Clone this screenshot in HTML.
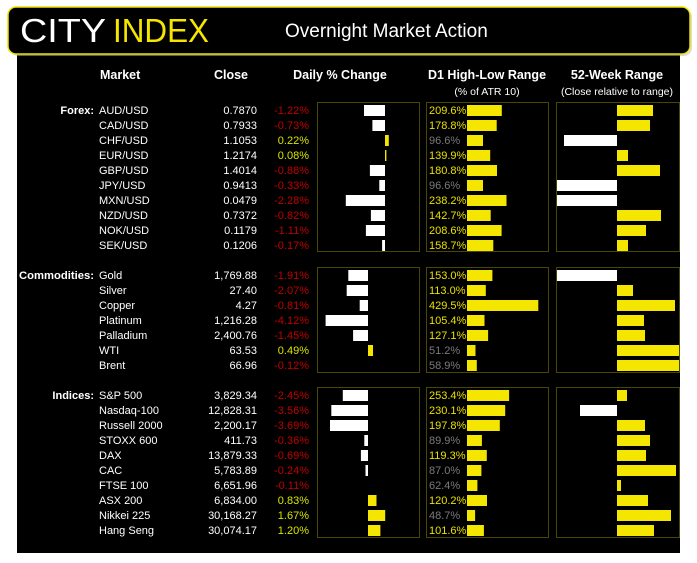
<!DOCTYPE html>
<html><head><meta charset="utf-8"><style>
html,body{margin:0;padding:0;background:#fff;}
svg{display:block;font-family:"Liberation Sans",sans-serif;}
.t{font-size:11px;fill:#fff;}
.h{font-size:12.5px;font-weight:bold;fill:#fff;}
.s{font-size:10.5px;fill:#fff;}
.r{fill:#c00000;font-size:11px;}
.g{fill:#d8e600;font-size:11px;}
.y{fill:#e8e000;font-size:11px;}
.gr{fill:#7a7a7a;font-size:11px;}
.b{font-weight:bold;}
</style></head><body>
<svg width="697" height="563" viewBox="0 0 697 563" xmlns="http://www.w3.org/2000/svg">
<rect x="17" y="50" width="663" height="503" fill="#000"/>
<rect x="10" y="9" width="682" height="47" rx="8" fill="#bbb" opacity="0.5"/>
<rect x="8" y="7" width="682" height="47" rx="8" fill="#000" stroke="#f0e000" stroke-width="1.5"/>
<text x="20" y="42" style="font-size:33px;fill:#fff;font-weight:300" textLength="86" lengthAdjust="spacingAndGlyphs">CITY</text>
<text x="113" y="42" style="font-size:33px;fill:#f5e600" textLength="96" lengthAdjust="spacingAndGlyphs">INDEX</text>
<text x="285" y="37" style="font-size:19px;fill:#fff">Overnight Market Action</text>

<text class="h" x="100" y="79">Market</text>
<text class="h" x="231" y="79" text-anchor="middle">Close</text>
<text class="h" x="340" y="79" text-anchor="middle">Daily % Change</text>
<text class="h" x="487" y="79" text-anchor="middle">D1 High-Low Range</text>
<text class="s" x="487" y="95" text-anchor="middle">(% of ATR 10)</text>
<text class="h" x="617" y="79" text-anchor="middle">52-Week Range</text>
<text class="s" x="617" y="95" text-anchor="middle">(Close relative to range)</text>

<g fill="none" stroke="#4a4800" stroke-width="1">
<rect x="317.5" y="102.5" width="102" height="149"/><rect x="426.5" y="102.5" width="122" height="149"/><rect x="556.5" y="102.5" width="123" height="149"/>
<rect x="317.5" y="267.5" width="102" height="105"/><rect x="426.5" y="267.5" width="122" height="105"/><rect x="556.5" y="267.5" width="123" height="105"/>
<rect x="317.5" y="387.5" width="102" height="150"/><rect x="426.5" y="387.5" width="122" height="150"/><rect x="556.5" y="387.5" width="123" height="150"/>
</g>

<text class="t b" x="94" y="114" text-anchor="end">Forex:</text>
<text class="t b" x="94" y="279" text-anchor="end" textLength="75" lengthAdjust="spacingAndGlyphs">Commodities:</text>
<text class="t b" x="94" y="399" text-anchor="end">Indices:</text>

<g class="t">
<text x="99" y="114">AUD/USD</text><text x="99" y="129">CAD/USD</text><text x="99" y="144">CHF/USD</text><text x="99" y="159">EUR/USD</text><text x="99" y="174">GBP/USD</text><text x="99" y="189">JPY/USD</text><text x="99" y="204">MXN/USD</text><text x="99" y="219">NZD/USD</text><text x="99" y="234">NOK/USD</text><text x="99" y="249">SEK/USD</text>
<text x="99" y="279">Gold</text><text x="99" y="294">Silver</text><text x="99" y="309">Copper</text><text x="99" y="324">Platinum</text><text x="99" y="339">Palladium</text><text x="99" y="354">WTI</text><text x="99" y="369">Brent</text>
<text x="99" y="399">S&amp;P 500</text><text x="99" y="414">Nasdaq-100</text><text x="99" y="429">Russell 2000</text><text x="99" y="444">STOXX 600</text><text x="99" y="459">DAX</text><text x="99" y="474">CAC</text><text x="99" y="489">FTSE 100</text><text x="99" y="504">ASX 200</text><text x="99" y="519">Nikkei 225</text><text x="99" y="534">Hang Seng</text>
</g>
<g class="t" text-anchor="end">
<text x="257" y="114">0.7870</text><text x="257" y="129">0.7933</text><text x="257" y="144">1.1053</text><text x="257" y="159">1.2174</text><text x="257" y="174">1.4014</text><text x="257" y="189">0.9413</text><text x="257" y="204">0.0479</text><text x="257" y="219">0.7372</text><text x="257" y="234">0.1179</text><text x="257" y="249">0.1206</text>
<text x="257" y="279">1,769.88</text><text x="257" y="294">27.40</text><text x="257" y="309">4.27</text><text x="257" y="324">1,216.28</text><text x="257" y="339">2,400.76</text><text x="257" y="354">63.53</text><text x="257" y="369">66.96</text>
<text x="257" y="399">3,829.34</text><text x="257" y="414">12,828.31</text><text x="257" y="429">2,200.17</text><text x="257" y="444">411.73</text><text x="257" y="459">13,879.33</text><text x="257" y="474">5,783.89</text><text x="257" y="489">6,651.96</text><text x="257" y="504">6,834.00</text><text x="257" y="519">30,168.27</text><text x="257" y="534">30,074.17</text>
</g>
<g text-anchor="end">
<text class="r" x="309" y="114">-1.22%</text><text class="r" x="309" y="129">-0.73%</text><text class="g" x="309" y="144">0.22%</text><text class="g" x="309" y="159">0.08%</text><text class="r" x="309" y="174">-0.88%</text><text class="r" x="309" y="189">-0.33%</text><text class="r" x="309" y="204">-2.28%</text><text class="r" x="309" y="219">-0.82%</text><text class="r" x="309" y="234">-1.11%</text><text class="r" x="309" y="249">-0.17%</text>
<text class="r" x="309" y="279">-1.91%</text><text class="r" x="309" y="294">-2.07%</text><text class="r" x="309" y="309">-0.81%</text><text class="r" x="309" y="324">-4.12%</text><text class="r" x="309" y="339">-1.45%</text><text class="g" x="309" y="354">0.49%</text><text class="r" x="309" y="369">-0.12%</text>
<text class="r" x="309" y="399">-2.45%</text><text class="r" x="309" y="414">-3.56%</text><text class="r" x="309" y="429">-3.69%</text><text class="r" x="309" y="444">-0.36%</text><text class="r" x="309" y="459">-0.69%</text><text class="r" x="309" y="474">-0.24%</text><text class="r" x="309" y="489">-0.11%</text><text class="g" x="309" y="504">0.83%</text><text class="g" x="309" y="519">1.67%</text><text class="g" x="309" y="534">1.20%</text>
</g>
<g fill="#fff">
<rect x="364" y="105" width="21" height="11"/><rect x="372.4" y="120" width="12.6" height="11"/><rect x="369.9" y="165" width="15.1" height="11"/><rect x="379.3" y="180" width="5.7" height="11"/><rect x="345.8" y="195" width="39.2" height="11"/><rect x="370.9" y="210" width="14.1" height="11"/><rect x="365.9" y="225" width="19.1" height="11"/><rect x="382.1" y="240" width="2.9" height="11"/>
<rect x="348.3" y="270" width="19.7" height="11"/><rect x="346.7" y="285" width="21.3" height="11"/><rect x="359.7" y="300" width="8.3" height="11"/><rect x="325.6" y="315" width="42.4" height="11"/><rect x="353.1" y="330" width="14.9" height="11"/>
<rect x="342.8" y="390" width="25.2" height="11"/><rect x="331.3" y="405" width="36.7" height="11"/><rect x="330" y="420" width="38" height="11"/><rect x="364.3" y="435" width="3.7" height="11"/><rect x="360.9" y="450" width="7.1" height="11"/><rect x="365.5" y="465" width="2.5" height="11"/>
</g>
<g fill="#f5e600">
<rect x="385" y="135" width="3.8" height="11"/><rect x="385" y="150" width="1.4" height="11"/>
<rect x="368" y="345" width="5" height="11"/>
<rect x="368" y="495" width="8.5" height="11"/><rect x="368" y="510" width="17.2" height="11"/><rect x="368" y="525" width="12.4" height="11"/>
</g>
<g>
<text class="y" x="429" y="114">209.6%</text><text class="y" x="429" y="129">178.8%</text><text class="gr" x="429" y="144">96.6%</text><text class="y" x="429" y="159">139.9%</text><text class="y" x="429" y="174">180.8%</text><text class="gr" x="429" y="189">96.6%</text><text class="y" x="429" y="204">238.2%</text><text class="y" x="429" y="219">142.7%</text><text class="y" x="429" y="234">208.6%</text><text class="y" x="429" y="249">158.7%</text>
<text class="y" x="429" y="279">153.0%</text><text class="y" x="429" y="294">113.0%</text><text class="y" x="429" y="309">429.5%</text><text class="y" x="429" y="324">105.4%</text><text class="y" x="429" y="339">127.1%</text><text class="gr" x="429" y="354">51.2%</text><text class="gr" x="429" y="369">58.9%</text>
<text class="y" x="429" y="399">253.4%</text><text class="y" x="429" y="414">230.1%</text><text class="y" x="429" y="429">197.8%</text><text class="gr" x="429" y="444">89.9%</text><text class="y" x="429" y="459">119.3%</text><text class="gr" x="429" y="474">87.0%</text><text class="gr" x="429" y="489">62.4%</text><text class="y" x="429" y="504">120.2%</text><text class="gr" x="429" y="519">48.7%</text><text class="y" x="429" y="534">101.6%</text>
</g>
<g fill="#f5e600">
<rect x="467" y="105" width="34.8" height="11"/><rect x="467" y="120" width="29.7" height="11"/><rect x="467" y="135" width="16" height="11"/><rect x="467" y="150" width="23.2" height="11"/><rect x="467" y="165" width="30" height="11"/><rect x="467" y="180" width="16" height="11"/><rect x="467" y="195" width="39.5" height="11"/><rect x="467" y="210" width="23.7" height="11"/><rect x="467" y="225" width="34.6" height="11"/><rect x="467" y="240" width="26.3" height="11"/>
<rect x="467" y="270" width="25.4" height="11"/><rect x="467" y="285" width="18.8" height="11"/><rect x="467" y="300" width="71.3" height="11"/><rect x="467" y="315" width="17.5" height="11"/><rect x="467" y="330" width="21.1" height="11"/><rect x="467" y="345" width="8.5" height="11"/><rect x="467" y="360" width="9.8" height="11"/>
<rect x="467" y="390" width="42.1" height="11"/><rect x="467" y="405" width="38.2" height="11"/><rect x="467" y="420" width="32.8" height="11"/><rect x="467" y="435" width="14.9" height="11"/><rect x="467" y="450" width="19.8" height="11"/><rect x="467" y="465" width="14.4" height="11"/><rect x="467" y="480" width="10.4" height="11"/><rect x="467" y="495" width="20" height="11"/><rect x="467" y="510" width="8.1" height="11"/><rect x="467" y="525" width="16.9" height="11"/>
</g>
<g fill="#f5e600">
<rect x="617" y="105" width="36" height="11"/><rect x="617" y="120" width="33" height="11"/><rect x="617" y="150" width="11" height="11"/><rect x="617" y="165" width="43" height="11"/><rect x="617" y="210" width="44" height="11"/><rect x="617" y="225" width="29" height="11"/><rect x="617" y="240" width="11" height="11"/>
<rect x="617" y="285" width="16" height="11"/><rect x="617" y="300" width="58" height="11"/><rect x="617" y="315" width="27" height="11"/><rect x="617" y="330" width="28" height="11"/><rect x="617" y="345" width="62" height="11"/><rect x="617" y="360" width="62" height="11"/>
<rect x="617" y="390" width="10" height="11"/><rect x="617" y="420" width="28" height="11"/><rect x="617" y="435" width="33" height="11"/><rect x="617" y="450" width="29" height="11"/><rect x="617" y="465" width="59" height="11"/><rect x="617" y="480" width="4" height="11"/><rect x="617" y="495" width="31" height="11"/><rect x="617" y="510" width="54" height="11"/><rect x="617" y="525" width="37" height="11"/>
</g>
<g fill="#fff">
<rect x="564" y="135" width="53" height="11"/><rect x="557" y="180" width="60" height="11"/><rect x="557" y="195" width="60" height="11"/>
<rect x="557" y="270" width="60" height="11"/>
<rect x="580" y="405" width="37" height="11"/>
</g>
</svg>
</body></html>
